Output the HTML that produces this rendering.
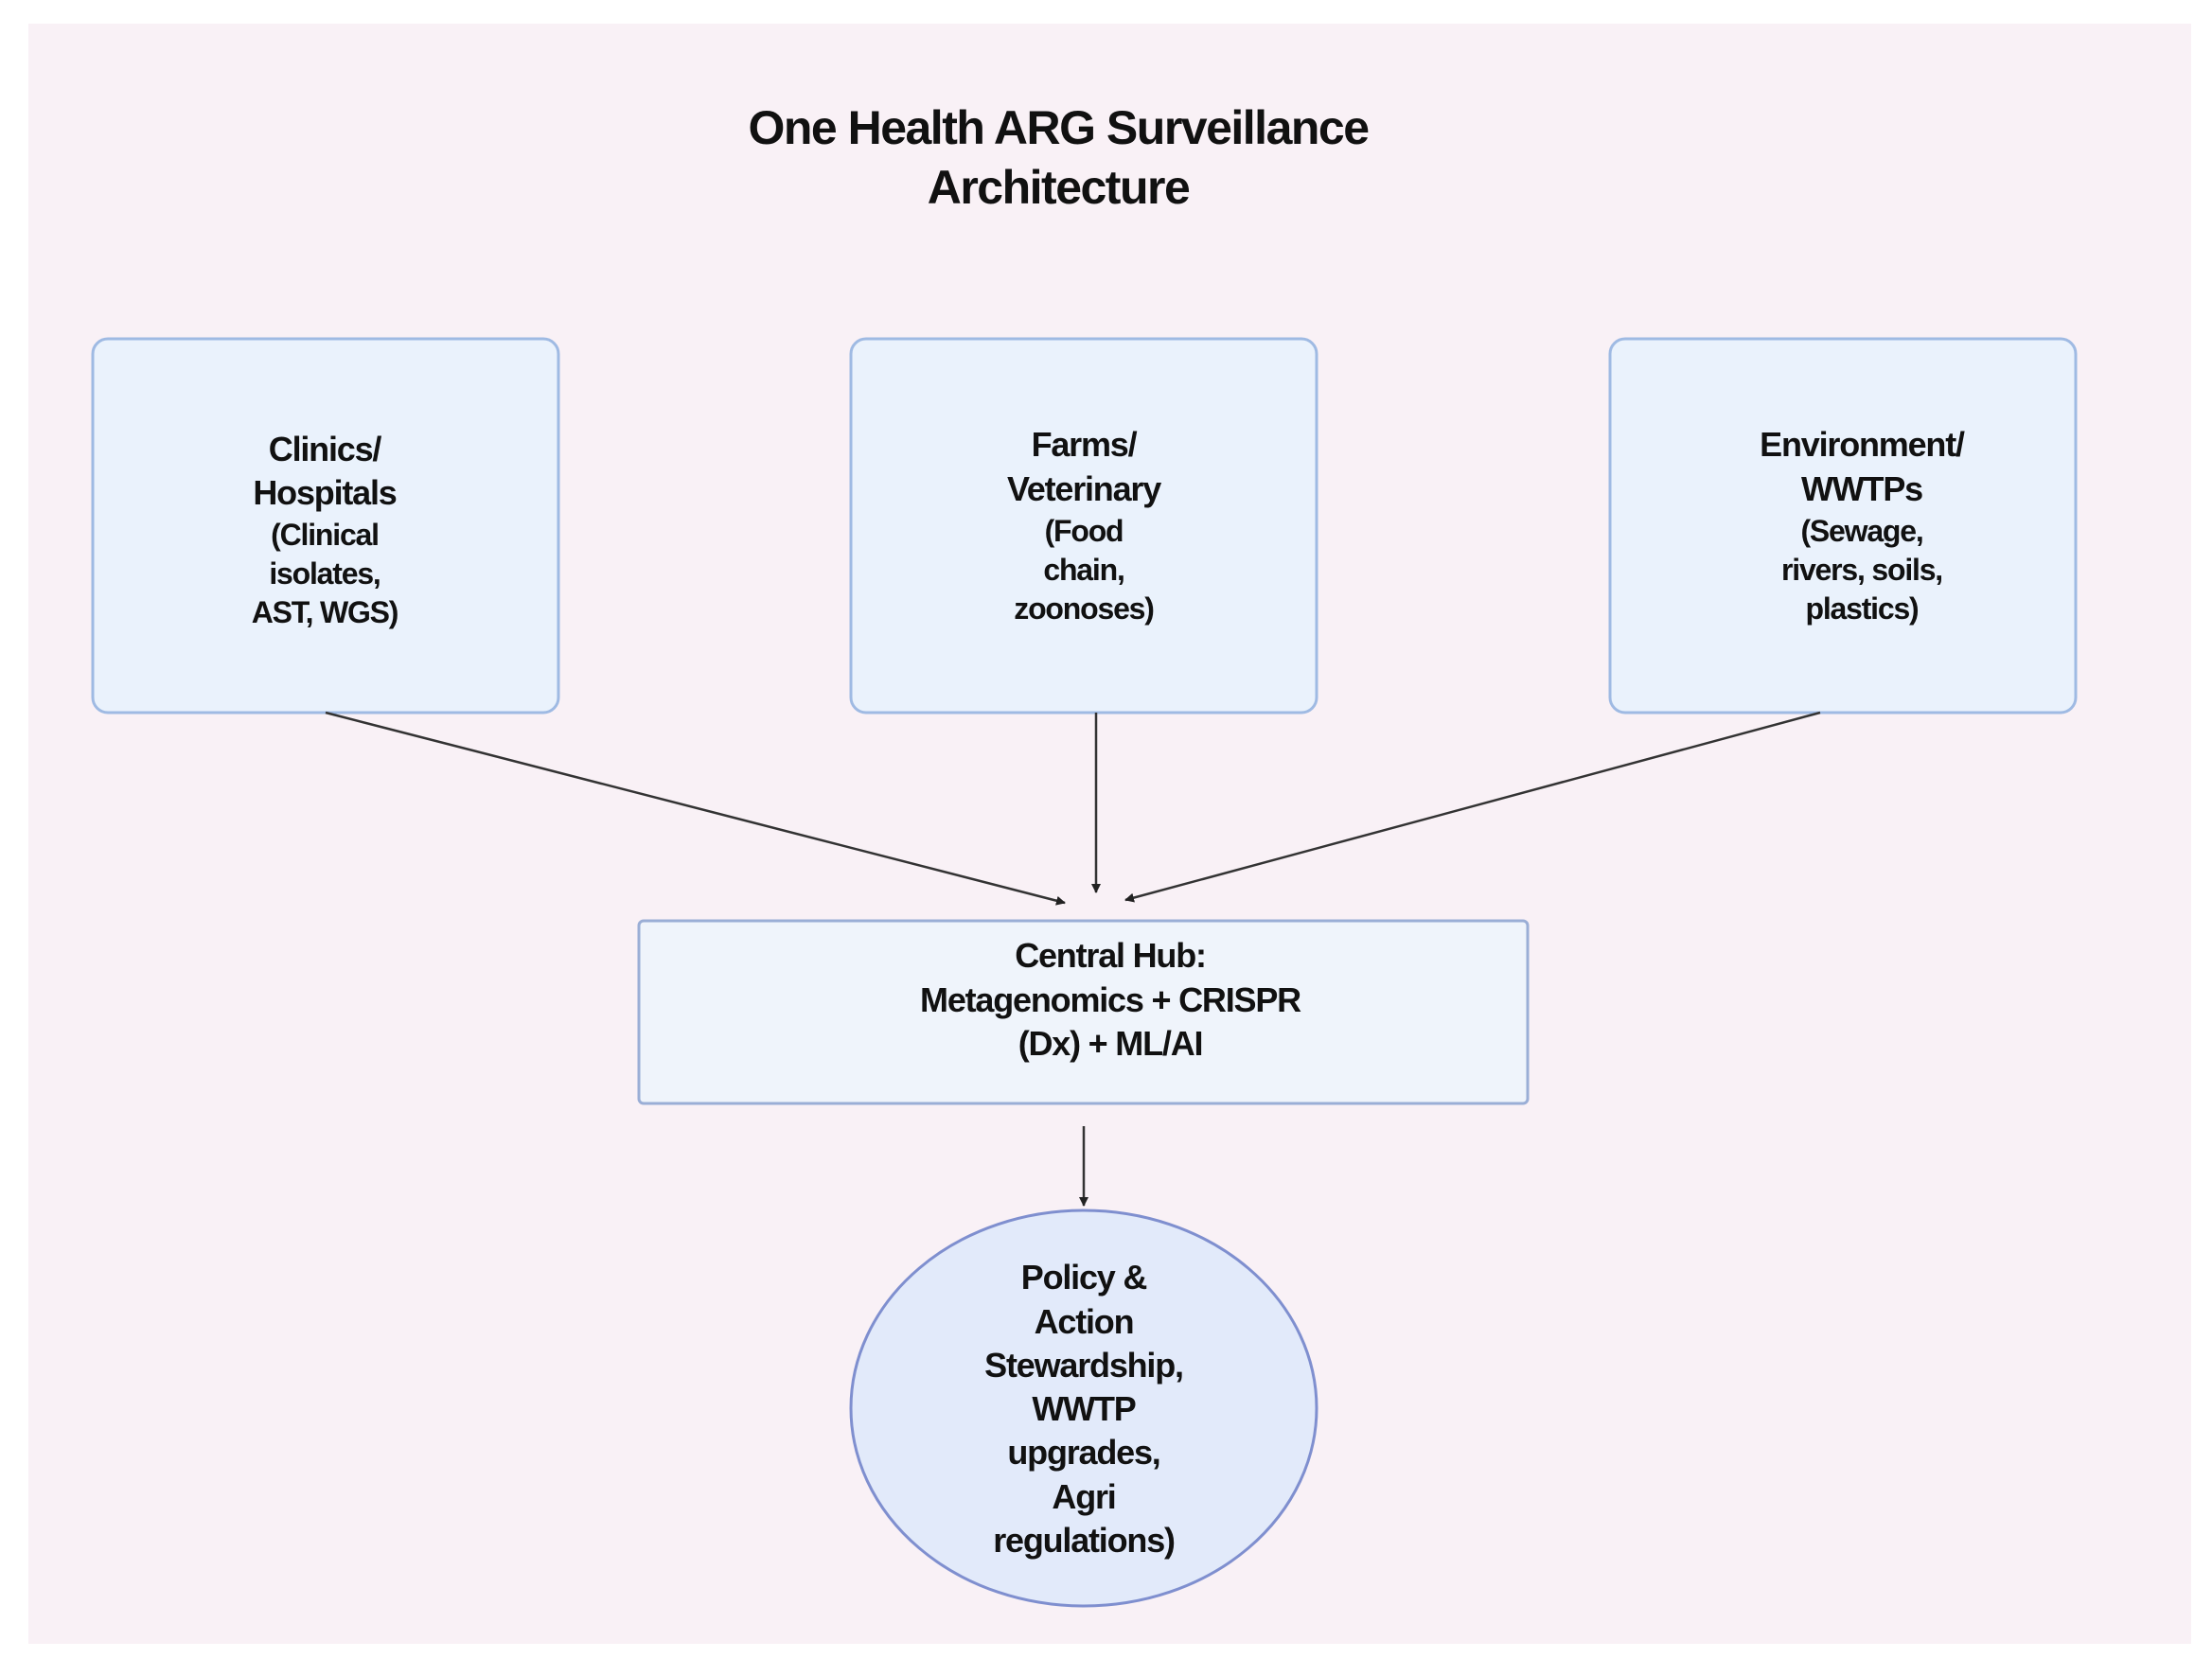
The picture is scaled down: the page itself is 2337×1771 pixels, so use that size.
<!DOCTYPE html>
<html><head><meta charset="utf-8"><style>
html,body{margin:0;padding:0;background:#fff;}
svg{display:block;}
text{font-family:"Liberation Sans",Arial,sans-serif;font-weight:bold;fill:#111;text-anchor:middle;}
.t{font-size:50px;letter-spacing:-1.5px;}
.h{font-size:36px;letter-spacing:-1.2px;}
.s{font-size:32px;letter-spacing:-1.2px;}
</style></head><body>
<svg width="2337" height="1771" viewBox="0 0 2337 1771" xmlns="http://www.w3.org/2000/svg">
<defs>
<marker id="a" markerWidth="10" markerHeight="10" refX="9" refY="5" orient="auto" markerUnits="userSpaceOnUse">
<path d="M0,0 L10,5 L0,10 Z" fill="#222"/>
</marker>
</defs>
<rect x="30" y="25" width="2285" height="1712" fill="#f9f1f6"/>
<text class="t" x="1118" y="152">One Health ARG Surveillance</text>
<text class="t" x="1118" y="215">Architecture</text>

<rect x="98" y="358" width="492" height="395" rx="16" fill="#eaf2fc" stroke="#9fbae3" stroke-width="3"/>
<rect x="899" y="358" width="492" height="395" rx="16" fill="#eaf2fc" stroke="#9fbae3" stroke-width="3"/>
<rect x="1701" y="358" width="492" height="395" rx="16" fill="#eaf2fc" stroke="#9fbae3" stroke-width="3"/>

<text class="h" x="343" y="487">Clinics/</text>
<text class="h" x="343" y="533">Hospitals</text>
<text class="s" x="343" y="576">(Clinical</text>
<text class="s" x="343" y="617">isolates,</text>
<text class="s" x="343" y="658">AST, WGS)</text>

<text class="h" x="1145" y="482">Farms/</text>
<text class="h" x="1145" y="529">Veterinary</text>
<text class="s" x="1145" y="572">(Food</text>
<text class="s" x="1145" y="613">chain,</text>
<text class="s" x="1145" y="654">zoonoses)</text>

<text class="h" x="1967" y="482">Environment/</text>
<text class="h" x="1967" y="529">WWTPs</text>
<text class="s" x="1967" y="572">(Sewage,</text>
<text class="s" x="1967" y="613">rivers, soils,</text>
<text class="s" x="1967" y="654">plastics)</text>

<g stroke="#333" stroke-width="2.5" fill="none" marker-end="url(#a)">
<line x1="344" y1="753" x2="1125" y2="954"/>
<line x1="1158" y1="753" x2="1158" y2="943"/>
<line x1="1923" y1="753" x2="1189" y2="951"/>
<line x1="1145" y1="1190" x2="1145" y2="1274"/>
</g>

<rect x="675" y="973" width="939" height="193" rx="5" fill="#eff4fb" stroke="#9aaed6" stroke-width="3"/>
<text class="h" x="1173" y="1022">Central Hub:</text>
<text class="h" x="1173" y="1069">Metagenomics + CRISPR</text>
<text class="h" x="1173" y="1115">(Dx) + ML/AI</text>

<ellipse cx="1145" cy="1488" rx="246" ry="209" fill="#e2eafa" stroke="#7f8fcf" stroke-width="3"/>
<text class="h" x="1145" y="1362">Policy &amp;</text>
<text class="h" x="1145" y="1409">Action</text>
<text class="h" x="1145" y="1455">Stewardship,</text>
<text class="h" x="1145" y="1501">WWTP</text>
<text class="h" x="1145" y="1547">upgrades,</text>
<text class="h" x="1145" y="1594">Agri</text>
<text class="h" x="1145" y="1640">regulations)</text>
</svg>
</body></html>
